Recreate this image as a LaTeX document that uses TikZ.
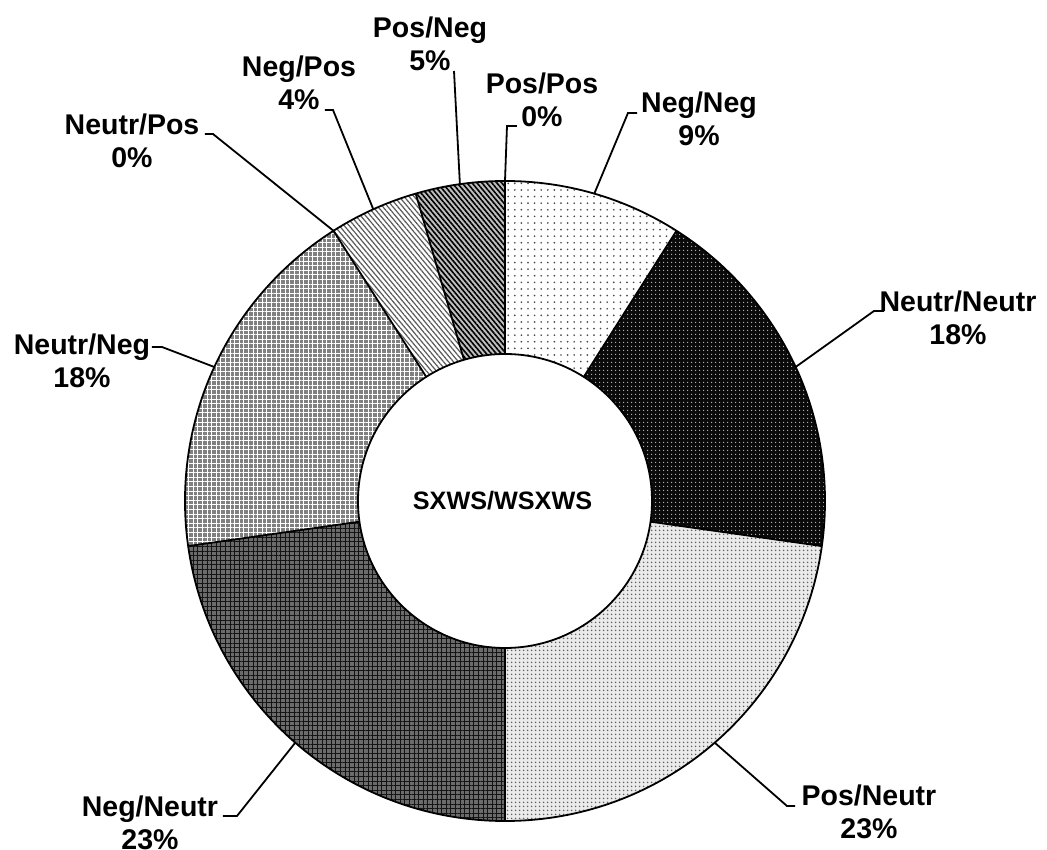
\documentclass[tikz,border=0pt]{standalone}
\usepackage{fontspec}
\setmainfont{Liberation Sans}
\usetikzlibrary{patterns.meta}
\tikzset{
  lab/.style={anchor=base, inner sep=0pt, font=\bfseries\fontsize{28.5}{32.5}\selectfont},
  lead/.style={draw=black, line width=1.8pt},
  outline/.style={draw=black, line width=1.8pt},
  negneg/.style={fill=white, postaction={pattern={Dots[radius=0.95pt,distance=6.6pt]}, pattern color=black!70}},
  neutneut/.style={fill=black!96, postaction={pattern={Dots[radius=0.85pt,distance=4pt]}, pattern color=white!75!black}},
  posneut/.style={fill=black!8, postaction={pattern={Dots[radius=1.05pt,distance=4pt]}, pattern color=black!62}},
  negneut/.style={fill=black!58, postaction={pattern={Hatch[angle=0,distance=4.6pt,line width=0.9pt]}, pattern color=black!92}},
  neutneg/.style={fill=black!50, postaction={pattern={Hatch[angle=0,distance=4.6pt,line width=1.0pt]}, pattern color=white}},
  negpos/.style={fill=white, postaction={pattern={Lines[angle=-50,distance=3.8pt,line width=1.2pt]}, pattern color=black!65}},
  posneg/.style={fill=black!25, postaction={pattern={Lines[angle=-50,distance=3.8pt,line width=1.6pt]}, pattern color=black}},
}
\newcommand{\seg}[3]{\path[#1] (#2:147pt) -- (#2:320pt) arc[start angle=#2, end angle=#3, radius=320pt] -- (#3:147pt) arc[start angle=#3, end angle=#2, radius=147pt] -- cycle;}
\begin{document}
\begin{tikzpicture}[x=1pt,y=1pt]
\useasboundingbox[fill=white] (-505,-349) rectangle (542,501);
% segments
\seg{negneg}{90}{57.6}
\seg{neutneut}{57.6}{-8.1}
\seg{posneut}{-8.1}{-90}
\seg{negneut}{-90}{-171.9}
\seg{neutneg}{-171.9}{-237.6}
\seg{negpos}{122.4}{106.2}
\seg{posneg}{106.2}{90}
% outlines
\draw[outline] (0,0) circle[radius=320pt];
\draw[outline] (0,0) circle[radius=147pt];
\foreach \a in {90,57.6,-8.1,-90,-171.9,122.4,106.2}
  \draw[outline] (\a:147pt) -- (\a:320pt);
% center label
\node[anchor=base, inner sep=0pt, font=\bfseries\fontsize{25.2}{30}\selectfont] (title) at (-2.5,-9) {SXWS/WSXWS};
% labels
\node[lab] (lposneg) at (-75,463) {\begin{tabular}[t]{@{}c@{}}Pos/Neg\\5\%\end{tabular}};
\node[lab] (lnegpos) at (-206,424) {\begin{tabular}[t]{@{}c@{}}Neg/Pos\\4\%\end{tabular}};
\node[lab] (lneutpos) at (-373,366) {\begin{tabular}[t]{@{}c@{}}Neutr/Pos\\0\%\end{tabular}};
\node[lab] (lpospos) at (37,407) {\begin{tabular}[t]{@{}c@{}}Pos/Pos\\0\%\end{tabular}};
\node[lab] (lnegneg) at (194,388) {\begin{tabular}[t]{@{}c@{}}Neg/Neg\\9\%\end{tabular}};
\node[lab] (lneutneut) at (453,189) {\begin{tabular}[t]{@{}c@{}}Neutr/Neutr\\18\%\end{tabular}};
\node[lab] (lneutneg) at (-423,146) {\begin{tabular}[t]{@{}c@{}}Neutr/Neg\\18\%\end{tabular}};
\node[lab] (lnegneut) at (-355,-316) {\begin{tabular}[t]{@{}c@{}}Neg/Neutr\\23\%\end{tabular}};
\node[lab] (lposneut) at (364,-305) {\begin{tabular}[t]{@{}c@{}}Pos/Neutr\\23\%\end{tabular}};
% leader points
\coordinate (oposneg) at (98.1:320pt);
\coordinate (onegpos) at (114.3:320pt);
\coordinate (oneutpos) at (122.4:320pt);
\coordinate (opospos) at (90:320pt);
\coordinate (onegneg) at (73.8:320pt);
\coordinate (oneutneut) at (24.75:320pt);
\coordinate (oneutneg) at (155.25:320pt);
\coordinate (onegneut) at (-130.95:320pt);
\coordinate (oposneut) at (-49.05:320pt);
\coordinate (sposneg) at (-51,430);
\coordinate (snegpos) at (-180,391);
\coordinate (sneutpos) at (-300,367);
\coordinate (spospos) at (12,375);
\coordinate (snegneg) at (132,388);
\coordinate (sneutneut) at (379,190);
\coordinate (sneutneg) at (-353,154);
\coordinate (snegneut) at (-282,-315);
\coordinate (sposneut) at (290,-305);
% leaders
\draw[lead] (sposneg) -- (oposneg);
\draw[lead] (snegpos) -- ++(8,0) -- (onegpos);
\draw[lead] (sneutpos) -- ++(8,0) -- (oneutpos);
\draw[lead] (spospos) -- ++(-10,0) -- (opospos);
\draw[lead] (snegneg) -- ++(-9,0) -- (onegneg);
\draw[lead] (sneutneut) -- ++(-10,0) -- (oneutneut);
\draw[lead] (sneutneg) -- ++(10,0) -- (oneutneg);
\draw[lead] (snegneut) -- ++(14,0) -- (onegneut);
\draw[lead] (sposneut) -- ++(-8,0) -- (oposneut);
\end{tikzpicture}
\end{document}
